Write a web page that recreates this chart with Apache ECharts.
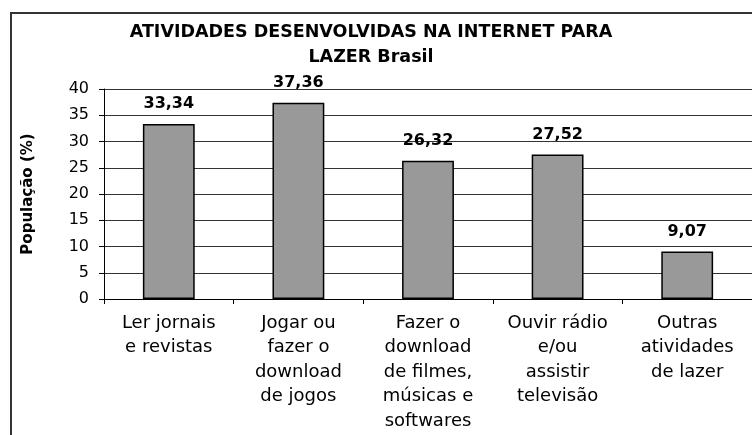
<!DOCTYPE html>
<html>
<head>
<meta charset="utf-8">
<script src="https://cdn.jsdelivr.net/npm/echarts@6/dist/echarts.min.js"></script>
<style>html,body{margin:0;padding:0;background:#fff}#c{width:752px;height:435px}</style>
</head>
<body>
<div id="c"></div>
<script>
var categories = [
  "Ler jornais\ne revistas",
  "Jogar ou\nfazer o\ndownload\nde jogos",
  "Fazer o\ndownload\nde filmes,\nmúsicas e\nsoftwares",
  "Ouvir rádio\ne/ou\nassistir\ntelevisão",
  "Outras\natividades\nde lazer"
];
var values = [33.34, 37.36, 26.32, 27.52, 9.07];
var yTicks = [0, 5, 10, 15, 20, 25, 30, 35, 40];
var titleText = "ATIVIDADES DESENVOLVIDAS NA INTERNET PARA\nLAZER Brasil";
var yName = "População (%)";

var chart = echarts.init(document.getElementById('c'), null, {renderer: 'canvas'});
var font = 'DejaVu Sans';
chart.setOption({
  animation: false,
  backgroundColor: '#fff',
  title: {
    text: titleText,
    left: 366, top: 15, textAlign: 'center',
    textStyle: {fontFamily: font, fontWeight: 'bold', fontSize: 17.5, lineHeight: 25, color: '#000'}
  },
  graphic: [{
    type: 'rect', shape: {x: 11, y: 13, width: 800, height: 500},
    style: {fill: null, stroke: '#333', lineWidth: 2}, silent: true, z: 100
  }],
  grid: {left: 104, right: 0, top: 89, bottom: 136, containLabel: false},
  xAxis: {
    type: 'category', data: categories,
    axisLine: {lineStyle: {color: '#000', width: 1}},
    axisTick: {show: true, length: 5, lineStyle: {color: '#000'}},
    axisLabel: {fontFamily: font, fontSize: 18, lineHeight: 24.5, color: '#000', margin: 12, interval: 0}
  },
  yAxis: {
    type: 'value', min: yTicks[0], max: yTicks[yTicks.length - 1], interval: 5,
    name: yName, nameLocation: 'middle', nameRotate: 90, nameGap: 68,
    nameTextStyle: {fontFamily: font, fontWeight: 'bold', fontSize: 15, color: '#000'},
    axisLine: {show: true, lineStyle: {color: '#000', width: 1}},
    axisTick: {show: true, length: 5, lineStyle: {color: '#000'}},
    axisLabel: {fontFamily: font, fontSize: 16, color: '#000', margin: 15},
    splitLine: {show: true, lineStyle: {color: '#333', width: 1}}
  },
  series: [{
    type: 'bar', data: values, barWidth: '40%',
    itemStyle: {color: '#999999', borderColor: '#000', borderWidth: 1.5},
    label: {
      show: true, position: 'top', distance: 12,
      fontFamily: font, fontWeight: 'bold', fontSize: 16, color: '#000',
      formatter: function (p) { return p.value.toFixed(2).replace('.', ','); }
    }
  }]
});
</script>
</body>
</html>
